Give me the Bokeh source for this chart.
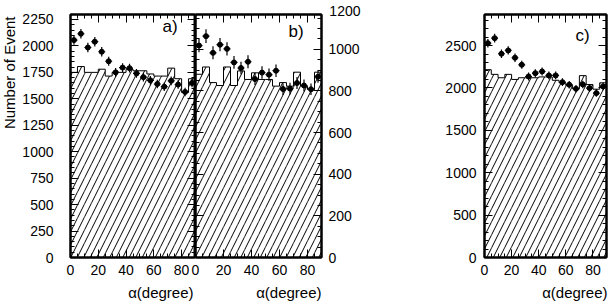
from bokeh.plotting import figure
from bokeh.models import (LinearAxis, SingleIntervalTicker, Range1d, Label, Title,
                          ColumnDataSource, CustomJSTickFormatter)
from bokeh.layouts import row
from bokeh.embed import file_html
from bokeh.resources import INLINE

# ---------------- data ----------------
bin_edges = [0, 5, 10, 15, 20, 25, 30, 35, 40, 45, 50, 55, 60, 65, 70, 75, 80, 85, 90]
bin_centers = [2.5, 7.5, 12.5, 17.5, 22.5, 27.5, 32.5, 37.5, 42.5, 47.5,
               52.5, 57.5, 62.5, 67.5, 72.5, 77.5, 82.5, 87.5]
bin_half = 2.5
x_ticks_step = 20

# panel a)
a_hist = [1750, 1805, 1750, 1750, 1780, 1715, 1750, 1750, 1780, 1765,
          1765, 1735, 1715, 1715, 1790, 1690, 1560, 1690]
a_data = [2055, 2115, 1985, 2040, 1945, 1855, 1750, 1795, 1790, 1740,
          1705, 1675, 1640, 1615, 1670, 1635, 1565, 1650]
a_err = [45, 46, 45, 45, 44, 43, 42, 42, 42, 42, 41, 41, 40, 40, 41, 40, 40, 41]
a_ymax = 2297

# panel b)
b_hist = [880, 915, 840, 826, 915, 826, 896, 855, 887, 855,
          855, 823, 840, 823, 890, 823, 807, 890]
b_data = [1018, 1063, 983, 1022, 1002, 937, 910, 940, 857, 888,
          878, 897, 809, 811, 838, 826, 808, 868]
b_err = [32, 33, 31, 32, 32, 31, 30, 31, 29, 30, 30, 30, 28, 28, 29, 29, 28, 29]
b_ymax = 1167
b_top_label = "1200"

# panel c)
c_hist = [2215, 2160, 2120, 2160, 2100, 2120, 2120, 2120, 2130, 2130,
          2090, 2060, 2030, 1990, 2145, 2040, 1985, 2060]
c_data = [2528, 2587, 2403, 2442, 2356, 2273, 2135, 2174, 2194, 2147,
          2147, 2068, 2038, 1990, 2041, 1998, 1939, 2018]
c_err = [50, 51, 49, 49, 49, 48, 46, 47, 47, 46, 46, 45, 45, 45, 45, 45, 44, 45]
c_ymax = 2866

x_title = "α(degree)"
y_title = "Number of Event"

FONT = "Liberation Sans"
H = 307
TOP = 14
BOTTOM = 50
FRAME_H = H - TOP - BOTTOM


def style_axis(ax, interval, minor, labels, standoff=5):
    ax.ticker = SingleIntervalTicker(interval=interval, num_minor_ticks=minor)
    ax.major_tick_in = 8
    ax.major_tick_out = 0
    ax.minor_tick_in = 4
    ax.minor_tick_out = 0
    ax.axis_line_width = 2
    ax.axis_line_color = "black"
    ax.major_tick_line_color = "black"
    ax.minor_tick_line_color = "black"
    ax.major_tick_line_width = 1
    ax.minor_tick_line_width = 1
    ax.major_label_text_font = FONT
    ax.major_label_text_font_size = "14px"
    ax.major_label_text_color = "black"
    if labels:
        ax.major_label_standoff = standoff
    else:
        ax.formatter = CustomJSTickFormatter(code="return ''")
        ax.major_label_standoff = 0


def make_panel(width, ymax, hist, data, err, yint, yminor, left_labels,
               mb_left, mb_right, lstand, bstand=7):
    p = figure(width=width, height=H, x_range=Range1d(0, 90), y_range=Range1d(0, ymax),
               output_backend="svg", toolbar_location=None,
               min_border_left=mb_left, min_border_right=mb_right,
               min_border_top=TOP, min_border_bottom=BOTTOM,
               x_axis_location=None, y_axis_location=None)
    p.grid.grid_line_color = None
    p.outline_line_color = "black"
    p.outline_line_width = 2
    p.background_fill_color = None
    p.border_fill_color = None

    hs = ColumnDataSource(dict(left=bin_edges[:-1], right=bin_edges[1:], top=hist))
    p.quad(left="left", right="right", top="top", bottom=0, source=hs,
           fill_alpha=0, line_color=None, hatch_pattern="/", hatch_color="black",
           hatch_scale=13, hatch_weight=1)
    p.step(x=bin_edges, y=hist + [hist[-1]], mode="after", line_color="black", line_width=1)

    ps = ColumnDataSource(dict(
        x=bin_centers, y=data,
        lo=[d - e for d, e in zip(data, err)], hi=[d + e for d, e in zip(data, err)],
        xl=[c - bin_half for c in bin_centers], xr=[c + bin_half for c in bin_centers]))
    p.segment(x0="x", y0="lo", x1="x", y1="hi", source=ps, line_color="black", line_width=1.2)
    p.segment(x0="xl", y0="y", x1="xr", y1="y", source=ps, line_color="black", line_width=1.2)
    p.scatter("x", "y", source=ps, size=5, marker="circle", color="black")

    bottom = LinearAxis()
    style_axis(bottom, x_ticks_step, 4, True, bstand)
    top = LinearAxis()
    style_axis(top, x_ticks_step, 4, False)
    left = LinearAxis()
    right = LinearAxis()
    style_axis(left, yint, yminor, left_labels, lstand)
    style_axis(right, yint, yminor, not left_labels, lstand)
    p.add_layout(bottom, "below")
    p.add_layout(top, "above")
    p.add_layout(left, "left")
    p.add_layout(right, "right")
    return p


def px_to_y(ymax, px_below_top):
    return ymax * (FRAME_H - px_below_top) / FRAME_H


def add_text(p, x, y, text, size):
    p.add_layout(Label(x=x, y=y, text=text, text_font=FONT, text_font_size=size,
                       text_color="black", text_align="left", text_baseline="middle"))


def add_title(p, text, place, size, offset, standoff, valign="bottom"):
    p.add_layout(Title(text=text, align="right", vertical_align=valign,
                       text_font=FONT, text_font_size=size,
                       text_font_style="normal", text_color="black",
                       offset=offset, standoff=standoff), place)


# panel a
pa = make_panel(195, a_ymax, a_hist, a_data, a_err, 250, 5, True, 70, 0, 17)
# panel b
pb = make_panel(207, b_ymax, b_hist, b_data, b_err, 200, 4, False, 12, 69, 7)
pb.margin = (0, 0, 0, -12)
# panel c
pc = make_panel(218, c_ymax, c_hist, c_data, c_err, 500, 5, True, 94, 2, 8)

# panel labels
add_text(pa, 66.2, px_to_y(a_ymax, 12), "a)", "17px")
add_text(pb, 66.5, px_to_y(b_ymax, 17), "b)", "17px")
add_text(pc, 67.2, px_to_y(c_ymax, 21), "c)", "17px")

# top tick label of the right axis of panel b (sits above the frame)
add_title(pb, b_top_label, "above", "14px", -39, -6, "top")

# axis titles
add_title(pa, x_title, "below", "15px", 2, 8)
add_title(pb, x_title, "below", "15px", 0, 8)
add_title(pc, x_title, "below", "15px", -1, 8)
add_title(pa, y_title, "left", "15px", 2, 0, "top")

layout = row(pa, pb, pc)
open("out.html", "w").write(file_html(layout, INLINE))
